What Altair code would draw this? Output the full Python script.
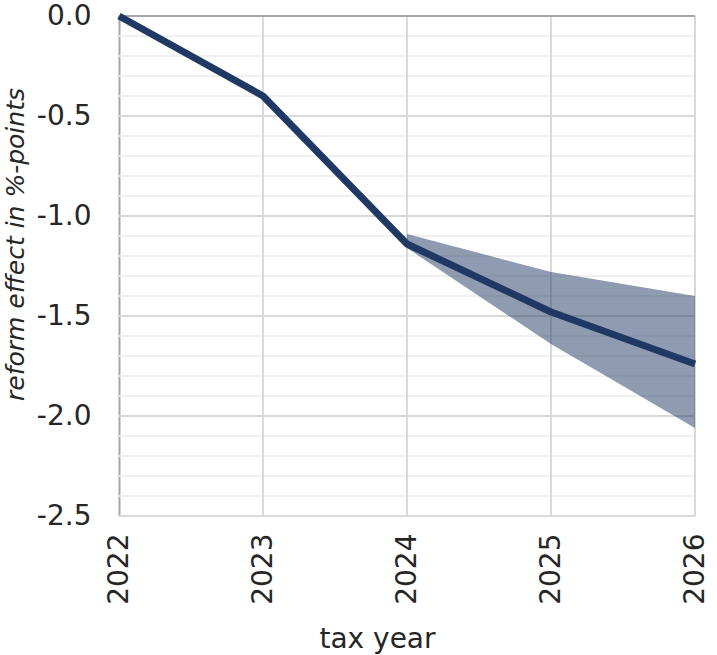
import altair as alt
import pandas as pd

# Central estimate of the reform effect by tax year
years = [2022, 2023, 2024, 2025, 2026]
effect = [0.0, -0.40, -1.14, -1.48, -1.74]

# Uncertainty band (from 2024 onwards)
band_years = [2024, 2025, 2026]
band_upper = [-1.09, -1.28, -1.40]
band_lower = [-1.16, -1.64, -2.06]

# Gridline positions
major_y = [-0.5, -1.0, -1.5, -2.0, -2.5]
minor_y = [-0.1, -0.2, -0.3, -0.4, -0.6, -0.7, -0.8, -0.9,
           -1.1, -1.2, -1.3, -1.4, -1.6, -1.7, -1.8, -1.9,
           -2.1, -2.2, -2.3, -2.4]
grid_x = [2023, 2024, 2025, 2026]
y_ticks = [0.0, -0.5, -1.0, -1.5, -2.0, -2.5]

NAVY = "#203864"
FONT = "DejaVu Sans"
TEXT = "#262626"
X_TITLE = "tax year"
Y_TITLE = "reform effect in %-points"

line_df = pd.DataFrame({"year": years, "effect": effect})
band_df = pd.DataFrame({"year": band_years, "upper": band_upper, "lower": band_lower})

x_scale = alt.Scale(domain=[2022, 2026], nice=False, zero=False)
y_scale = alt.Scale(domain=[-2.5, 0], nice=False, zero=False)

x_axis = alt.Axis(
    values=years,
    format="d",
    labelAngle=-90,
    labelFont=FONT,
    labelFontSize=28,
    labelColor=TEXT,
    labelPadding=17,
    ticks=False,
    tickSize=0,
    domain=False,
    grid=False,
    titleFont=FONT,
    titleFontSize=28,
    titleFontWeight="normal",
    titleColor=TEXT,
    titleAlign="center",
    titleBaseline="alphabetic",
    titleX=258,
    titleY=131,
)

y_axis = alt.Axis(
    values=y_ticks,
    labelExpr="datum.value < 0 ? '-' + format(-datum.value, '.1f') : format(datum.value, '.1f')",
    labelFont=FONT,
    labelFontSize=28,
    labelColor=TEXT,
    labelPadding=28,
    ticks=False,
    tickSize=0,
    domain=True,
    domainColor="#a6a6a6",
    domainWidth=2,
    grid=False,
    titleFont=FONT,
    titleFontSize=25,
    titleFontStyle="italic",
    titleFontWeight="normal",
    titleColor=TEXT,
    titleAngle=-90,
    titleAlign="center",
    titleBaseline="middle",
    titleX=-104,
    titleY=228,
)


def X(field):
    return alt.X(field, scale=x_scale, axis=x_axis, title=X_TITLE)


def Y(field):
    return alt.Y(field, scale=y_scale, axis=y_axis, title=Y_TITLE)


minor = alt.Chart(pd.DataFrame({"v": minor_y})).mark_rule(
    color="#f0f0f0", strokeWidth=2
).encode(y=Y("v:Q"))

major = alt.Chart(pd.DataFrame({"v": major_y})).mark_rule(
    color="#d9d9d9", strokeWidth=2
).encode(y=Y("v:Q"))

vert = alt.Chart(pd.DataFrame({"v": grid_x})).mark_rule(
    color="#d9d9d9", strokeWidth=2
).encode(x=X("v:Q"))

top = alt.Chart(pd.DataFrame({"v": [0.0]})).mark_rule(
    color="#a6a6a6", strokeWidth=2
).encode(y=Y("v:Q"))

band = alt.Chart(band_df).mark_area(color=NAVY, opacity=0.5).encode(
    x=X("year:Q"),
    y=Y("upper:Q"),
    y2="lower:Q",
)

line = alt.Chart(line_df).mark_line(
    color=NAVY, strokeWidth=7, strokeJoin="round"
).encode(
    x=X("year:Q"),
    y=Y("effect:Q"),
)

chart = alt.layer(minor, major, vert, top, band, line).properties(
    width=576,
    height=500,
    autosize=alt.AutoSizeParams(type="none"),
    padding={"left": 119, "top": 16, "right": 22, "bottom": 139},
).configure_view(stroke=None).configure(background="white")

chart.save("out.html", embed_options={"renderer": "svg", "actions": False})
